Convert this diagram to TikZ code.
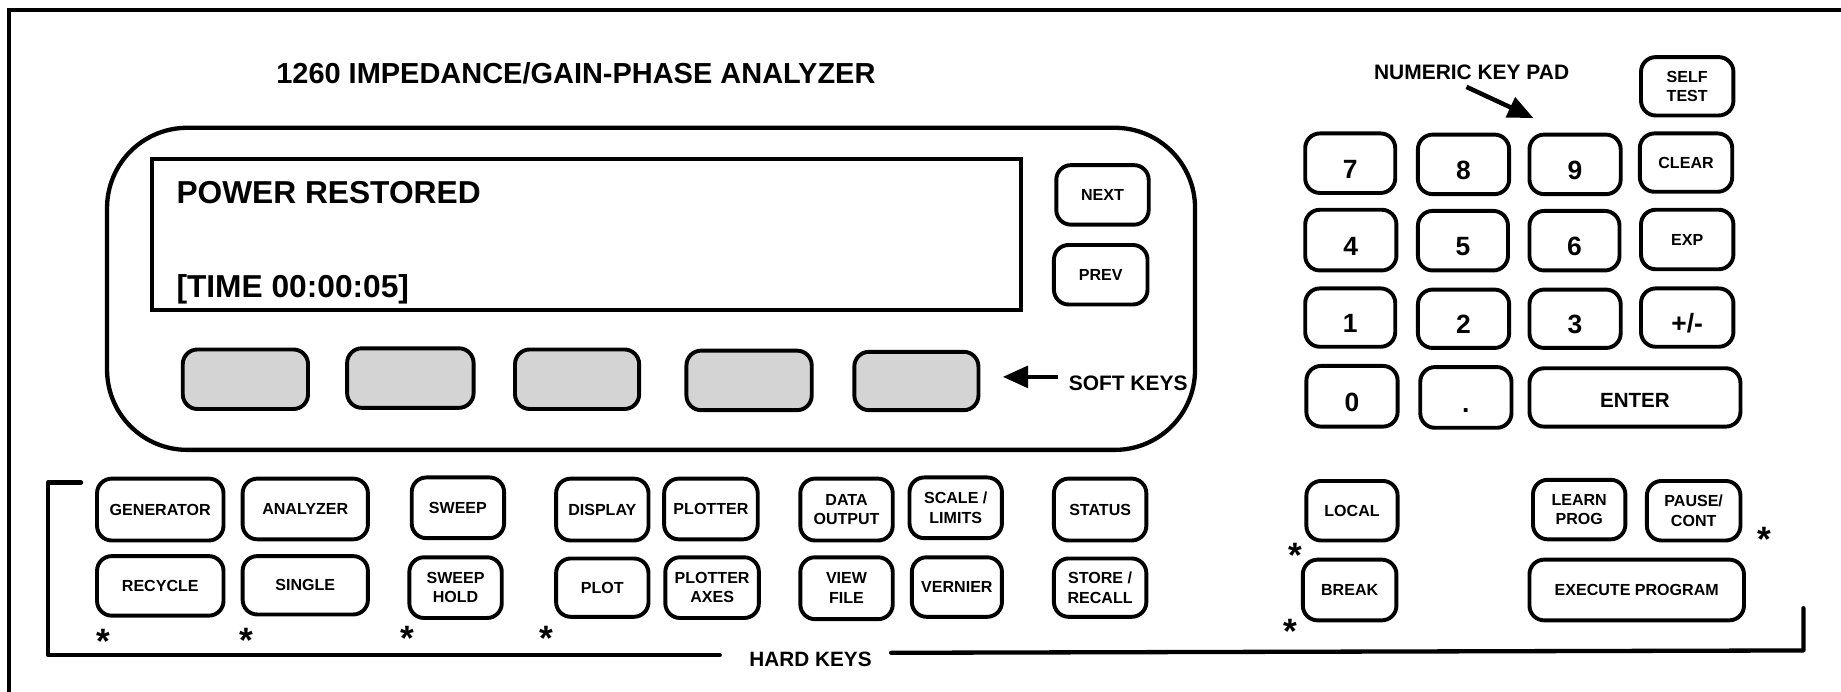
\documentclass[tikz,border=0pt]{standalone}
\usepackage{fontspec}
\setmainfont{Liberation Sans}
\usetikzlibrary{arrows.meta}
\definecolor{softgray}{RGB}{212,212,212}
\newcommand\kbox[7][key]{%
  \pgfmathsetmacro\kbw{(#5-#3-3.3)*0.6}%
  \pgfmathsetmacro\kbh{(#6-#4-3.3)*0.6}%
  \node[#1, minimum width=\kbw pt, minimum height=\kbh pt] (#2) at ({(#3+#5)/2},{(#4+#6)/2}) {#7};}
\begin{document}
\begin{tikzpicture}[x=0.6pt,y=-0.6pt,
  key/.style={draw, line width=2pt, rounded corners=7.5pt, inner sep=0pt, align=center,
    font=\bfseries\fontsize{8.2}{10}\selectfont},
  soft/.style={key, fill=softgray},
  numkey/.style={key, font=\bfseries\fontsize{13.5}{15}\selectfont, text height=15.5pt, text depth=0pt},
  enterkey/.style={key, font=\bfseries\fontsize{10.5}{12}\selectfont, text height=10.5pt, text depth=0pt},
  lbl/.style={inner sep=0pt, anchor=base west},
  star/.style={inner sep=0pt, anchor=base, font=\bfseries\fontsize{18}{18}\selectfont},
  thick line/.style={line width=2.2pt, line cap=round, line join=round},
  arr/.style={line width=2.3pt, -{Triangle[length=13pt,width=11pt]}}]
\useasboundingbox (0,0) rectangle (1568,589);
% outer frame (top and left)
\coordinate (fbl) at (7.5,600);
\coordinate (ftl) at (7.5,8.5);
\coordinate (ftr) at (1580,8.5);
\draw[line width=2.2pt] (fbl) -- (ftl) -- (ftr);
% title
\node[lbl, font=\bfseries\fontsize{14.8}{16}\selectfont] (title) at (235,71) {1260 IMPEDANCE/GAIN-PHASE ANALYZER};
% display panel
\node[draw, line width=2.2pt, rounded corners=41pt, minimum width=556pt, minimum height=164.6pt, inner sep=0pt] (panel) at (554.5,246) {};
\node[draw, line width=2pt, minimum width=443.8pt, minimum height=77.5pt, inner sep=0pt] (lcd) at (499.5,199.8) {};
\node[lbl, font=\bfseries\fontsize{16.2}{18}\selectfont] (msg1) at (150,173) {POWER RESTORED};
\node[lbl, font=\bfseries\fontsize{16.2}{18}\selectfont] (msg2) at (150,253) {[TIME 00:00:05]};
\kbox{next}{898}{139}{980}{193}{NEXT}
\kbox{prev}{896}{207}{979}{261}{PREV}
\kbox[soft]{sk1}{154}{296}{264}{350}{}
\kbox[soft]{sk2}{294}{295}{405}{349}{}
\kbox[soft]{sk3}{437}{296}{546}{350}{}
\kbox[soft]{sk4}{583}{297}{693}{351}{}
\kbox[soft]{sk5}{726}{298}{835}{351}{}
\node[lbl, font=\bfseries\fontsize{10.7}{12}\selectfont] (softlbl) at (910,333) {SOFT KEYS};
\coordinate (skfrom) at (901,321);
\coordinate (skto) at (854,321);
\draw[arr] (skfrom) -- (skto);
% numeric keypad
\node[lbl, font=\bfseries\fontsize{10.7}{12}\selectfont] (numlbl) at (1170,68) {NUMERIC KEY PAD};
\coordinate (nfrom) at (1249,74);
\coordinate (nto) at (1306,100.5);
\draw[arr] (nfrom) -- (nto);
\kbox{selftest}{1396}{47}{1478}{100}{SELF\\TEST}
\kbox[numkey]{k7}{1110}{112}{1190}{166}{7}
\kbox[numkey]{k8}{1206}{113}{1287}{167}{8}
\kbox[numkey]{k9}{1301}{113}{1382}{167}{9}
\kbox{clear}{1395}{112}{1477}{165}{CLEAR}
\kbox[numkey]{k4}{1110}{177}{1191}{232}{4}
\kbox[numkey]{k5}{1206}{178}{1286}{232}{5}
\kbox[numkey]{k6}{1301}{178}{1381}{232}{6}
\kbox{exp}{1396}{177}{1478}{231}{EXP}
\kbox[numkey]{k1}{1110}{244}{1190}{297}{1}
\kbox[numkey]{k2}{1206}{245}{1287}{298}{2}
\kbox[numkey]{k3}{1301}{245}{1382}{298}{3}
\kbox[numkey]{pm}{1396}{244}{1478}{297}{+/-}
\kbox[numkey]{k0}{1111}{310}{1192}{365}{0}
\kbox[numkey]{kdot}{1208}{311}{1289}{366}{.}
\kbox[enterkey]{enter}{1301}{312}{1484}{365}{ENTER}
% hard keys
\kbox{gen}{81}{406}{192}{462}{GENERATOR}
\kbox{ana}{205}{406}{315}{461}{ANALYZER}
\kbox{sweep}{349}{405}{431}{460}{SWEEP}
\kbox{disp}{472}{406}{554}{462}{DISPLAY}
\kbox{plotter}{564}{406}{647}{461}{PLOTTER}
\kbox{data}{680}{406}{762}{462}{DATA\\OUTPUT}
\kbox{scale}{773}{405}{855}{460}{SCALE /\\LIMITS}
\kbox{status}{896}{406}{978}{462}{STATUS}
\kbox{rec}{81}{472}{192}{526}{RECYCLE}
\kbox{single}{205}{472}{315}{525}{SINGLE}
\kbox{shold}{347}{473}{429}{528}{SWEEP\\HOLD}
\kbox{plot}{472}{474}{554}{527}{PLOT}
\kbox{paxes}{565}{473}{648}{528}{PLOTTER\\AXES}
\kbox{view}{680}{473}{762}{529}{VIEW\\FILE}
\kbox{vern}{775}{473}{855}{527}{VERNIER}
\kbox{store}{896}{474}{978}{527}{STORE /\\RECALL}
\kbox{local}{1111}{408}{1192}{462}{LOCAL}
\kbox{brk}{1108}{475}{1191}{530}{BREAK}
\kbox{learn}{1304}{407}{1386}{461}{LEARN\\PROG}
\kbox{pause}{1401}{408}{1484}{462}{PAUSE/\\CONT}
\kbox{exec}{1301}{475}{1487}{530}{EXECUTE PROGRAM}
% stars
\node[star] (s1) at (88,557) {*};
\node[star] (s2) at (210,556) {*};
\node[star] (s3) at (347,554) {*};
\node[star] (s4) at (465,554) {*};
\node[star] (s5) at (1103,483) {*};
\node[star] (s6) at (1099,548) {*};
\node[star] (s7) at (1503,470) {*};
% hard keys bracket
\coordinate (b1) at (69,411);
\coordinate (b2) at (41,411);
\coordinate (b3) at (41,558);
\coordinate (b4) at (613,558);
\coordinate (b5) at (759,556);
\coordinate (b6) at (1536,554);
\coordinate (b7) at (1536,518);
\draw[thick line] (b1) -- (b2) -- (b3) -- (b4);
\draw[thick line] (b5) -- (b6) -- (b7);
\node[lbl, font=\bfseries\fontsize{10.6}{12}\selectfont] (hardlbl) at (638,568) {HARD KEYS};
\end{tikzpicture}
\end{document}
